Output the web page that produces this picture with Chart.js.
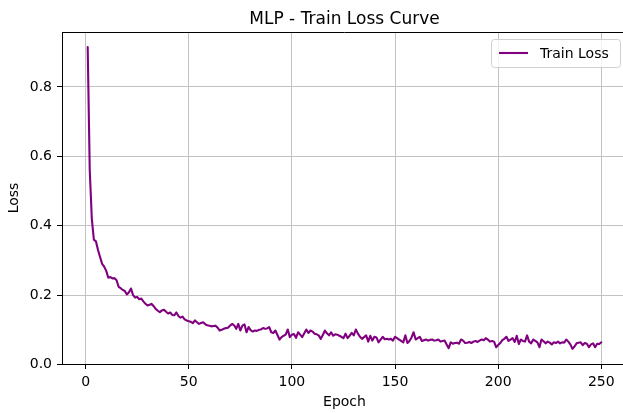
<!DOCTYPE html>
<html>
<head>
<meta charset="utf-8">
<title>MLP - Train Loss Curve</title>
<script src="https://cdn.jsdelivr.net/npm/chart.js@4.4.1/dist/chart.umd.min.js"></script>
<style>
  html, body { margin: 0; padding: 0; background: #fff; overflow: hidden; }
  #lossChart { display: block; }
</style>
</head>
<body>
<canvas id="lossChart" width="640" height="413"></canvas>
<script>
"use strict";

const chartTitle = "MLP - Train Loss Curve";
const seriesLabel = "Train Loss";
const xAxisLabel = "Epoch";
const yAxisLabel = "Loss";
const xTicks = [0, 50, 100, 150, 200, 250];
const yTicks = [0.0, 0.2, 0.4, 0.6, 0.8];

// loss per epoch, epochs 1..250
const trainLoss = [
  0.915, 0.56, 0.42, 0.36, 0.355, 0.33, 0.31, 0.29, 0.282, 0.27,
  0.25, 0.252, 0.248, 0.249, 0.243, 0.224, 0.22, 0.215, 0.212, 0.202,
  0.208, 0.219, 0.2, 0.193, 0.195, 0.188, 0.19, 0.182, 0.175, 0.17,
  0.172, 0.175, 0.168, 0.16, 0.155, 0.151, 0.156, 0.158, 0.152, 0.147,
  0.15, 0.143, 0.142, 0.15, 0.14, 0.135, 0.138, 0.13, 0.127, 0.125,
  0.123, 0.119, 0.127, 0.122, 0.117, 0.12, 0.122, 0.116, 0.113, 0.112,
  0.11, 0.111, 0.112, 0.106, 0.098, 0.1, 0.103, 0.105, 0.106, 0.112,
  0.117, 0.113, 0.103, 0.117, 0.098, 0.112, 0.116, 0.093, 0.108, 0.099,
  0.095, 0.098, 0.097, 0.1, 0.101, 0.105, 0.103, 0.104, 0.108, 0.093,
  0.091, 0.098, 0.085, 0.072, 0.079, 0.083, 0.086, 0.101, 0.079, 0.086,
  0.088, 0.077, 0.093, 0.086, 0.079, 0.09, 0.101, 0.091, 0.098, 0.095,
  0.089, 0.087, 0.084, 0.074, 0.085, 0.098, 0.09, 0.084, 0.093, 0.083,
  0.087, 0.086, 0.083, 0.08, 0.076, 0.089, 0.076, 0.083, 0.091, 0.084,
  0.101, 0.089, 0.08, 0.074, 0.079, 0.084, 0.066, 0.083, 0.069, 0.08,
  0.078, 0.064, 0.072, 0.08, 0.073, 0.074, 0.072, 0.074, 0.069, 0.08,
  0.076, 0.072, 0.068, 0.064, 0.084, 0.062, 0.068, 0.078, 0.093, 0.072,
  0.076, 0.08, 0.068, 0.07, 0.072, 0.069, 0.071, 0.072, 0.069, 0.07,
  0.072, 0.066, 0.068, 0.069, 0.058, 0.047, 0.064, 0.06, 0.062, 0.063,
  0.06, 0.072, 0.069, 0.062, 0.063, 0.065, 0.062, 0.066, 0.068, 0.065,
  0.069, 0.072, 0.07, 0.076, 0.072, 0.066, 0.068, 0.066, 0.05, 0.056,
  0.062, 0.07, 0.074, 0.08, 0.068, 0.072, 0.076, 0.065, 0.083, 0.059,
  0.072, 0.068, 0.066, 0.084, 0.066, 0.061, 0.072, 0.068, 0.064, 0.05,
  0.072, 0.067, 0.061, 0.066, 0.063, 0.058, 0.064, 0.062, 0.066, 0.061,
  0.064, 0.063, 0.072, 0.066, 0.058, 0.045, 0.052, 0.061, 0.063, 0.064,
  0.056, 0.062, 0.06, 0.05, 0.058, 0.061, 0.05, 0.06, 0.059, 0.064,
];
const epochs = trainLoss.map((_, i) => i + 1);

const LINE_COLOR = "#800080";
const GRID_COLOR = "#c2c2c2";
const FONT = "'DejaVu Sans', sans-serif";

// axis limits with 5% headroom around the data, like the usual pyplot defaults
const xMin = -11.45, xMax = 262.45;
const yMin = 0.0015, yMax = 0.9585;

// top/right spines, titles and the boxed legend in the upper-right corner
const decorations = {
  id: "decorations",
  afterDraw(chart) {
    const { ctx, chartArea: a } = chart;
    ctx.save();
    ctx.strokeStyle = "#000";
    ctx.lineWidth = 1;
    ctx.beginPath();
    ctx.moveTo(a.left, Math.round(a.top) + 0.5);
    ctx.lineTo(a.right, Math.round(a.top) + 0.5);
    ctx.moveTo(Math.round(a.right) + 0.5, a.top);
    ctx.lineTo(Math.round(a.right) + 0.5, a.bottom);
    ctx.stroke();

    ctx.fillStyle = "#000";
    ctx.font = `17px ${FONT}`;
    ctx.textAlign = "center";
    ctx.textBaseline = "alphabetic";
    ctx.fillText(chartTitle, (a.left + a.right) / 2, a.top - 8);

    ctx.font = `14px ${FONT}`;
    ctx.textBaseline = "middle";
    ctx.fillText(xAxisLabel, (a.left + a.right) / 2, 402);
    ctx.save();
    ctx.translate(14, (a.top + a.bottom) / 2);
    ctx.rotate(-Math.PI / 2);
    ctx.fillText(yAxisLabel, 0, 0);
    ctx.restore();

    // legend
    const bx = 491, by = a.top + 7, bw = 129, bh = 28, r = 3;
    ctx.fillStyle = "rgba(255,255,255,0.8)";
    ctx.strokeStyle = "#d0d0d0";
    ctx.beginPath();
    ctx.roundRect(bx + 0.5, by + 0.5, bw, bh, r);
    ctx.fill();
    ctx.stroke();
    const ly = by + bh / 2;
    ctx.strokeStyle = LINE_COLOR;
    ctx.lineWidth = 2.1;
    ctx.beginPath();
    ctx.moveTo(bx + 8, ly);
    ctx.lineTo(bx + 37, ly);
    ctx.stroke();
    ctx.fillStyle = "#000";
    ctx.textAlign = "left";
    ctx.fillText(seriesLabel, bx + 49, ly + 1);
    ctx.restore();
  },
};

const axisStyle = {
  grid: { color: GRID_COLOR, lineWidth: 1, tickColor: "#000", tickLength: 5 },
  border: { display: true, color: "#000", width: 1 },
  ticks: { color: "#000", padding: 5, font: { family: FONT, size: 14 } },
};

new Chart(document.getElementById("lossChart"), {
  type: "line",
  data: {
    datasets: [{
      label: seriesLabel,
      data: epochs.map((e, i) => ({ x: e, y: trainLoss[i] })),
      borderColor: LINE_COLOR,
      borderWidth: 2.1,
      borderJoinStyle: "round",
      borderCapStyle: "round",
      pointRadius: 0,
      tension: 0,
      fill: false,
    }],
  },
  options: {
    responsive: false,
    animation: false,
    layout: { padding: { top: 32, right: 13, left: 0, bottom: 0 } },
    plugins: { legend: { display: false }, title: { display: false }, tooltip: { enabled: false } },
    scales: {
      x: {
        ...axisStyle,
        type: "linear",
        min: xMin,
        max: xMax,
        afterBuildTicks: (s) => { s.ticks = xTicks.map((v) => ({ value: v })); },
        afterFit: (s) => { s.height = 49; },
        ticks: { ...axisStyle.ticks, maxRotation: 0, callback: (v) => String(v) },
      },
      y: {
        ...axisStyle,
        min: yMin,
        max: yMax,
        afterBuildTicks: (s) => { s.ticks = yTicks.map((v) => ({ value: v })); },
        afterFit: (s) => { s.width = 62; },
        ticks: { ...axisStyle.ticks, callback: (v) => v.toFixed(1) },
      },
    },
  },
  plugins: [decorations],
});
</script>
</body>
</html>
